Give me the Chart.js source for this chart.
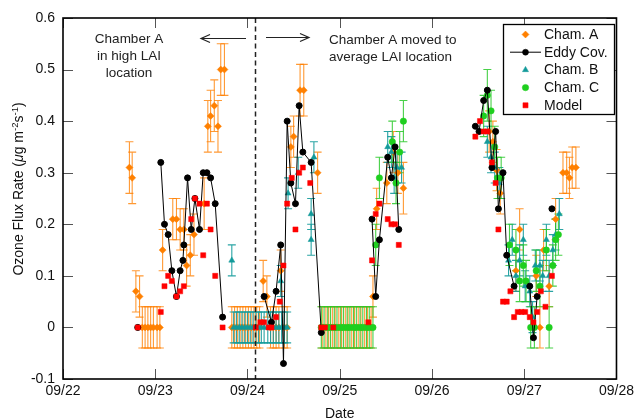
<!DOCTYPE html>
<html>
<head>
<meta charset="utf-8">
<script src="https://cdn.jsdelivr.net/npm/chart.js@4.4.1/dist/chart.umd.min.js"></script>
<style>
  html, body { margin: 0; padding: 0; background: #fff; }
  canvas { display: block; }
</style>
</head>
<body>
<canvas id="fluxChart" width="638" height="418"></canvas>
<script>
// values: x in days of September, y in ug m-2 s-1
var dayTicks = [22, 23, 24, 25, 26, 27, 28];
var fluxTicks = [-0.1, 0, 0.1, 0.2, 0.3, 0.4, 0.5, 0.6];
var chamberMoveDay = 24.083;

var chamADays = [22.72, 22.75, 22.79, 22.83, 22.86, 22.89, 22.92, 22.95, 22.98, 23.02, 23.05,
  23.08, 23.19, 23.23, 23.27, 23.31, 23.34, 23.38, 23.42, 23.53, 23.57, 23.60, 23.64, 23.68, 23.71, 23.75,
  23.83, 23.86, 23.89, 23.92, 23.95, 23.98, 24.01, 24.04, 24.07, 24.10, 24.13, 24.17, 24.21, 24.25, 24.28,
  24.31, 24.34, 24.36, 24.40, 24.43, 24.47, 24.50, 24.57, 24.61, 24.76,
  24.81, 24.85, 24.88, 24.92, 24.95, 24.99, 25.02, 25.06, 25.09, 25.13, 25.16, 25.20, 25.23, 25.27, 25.30, 25.34,
  25.36, 25.40, 25.51, 25.58, 25.63, 25.69,
  26.62, 26.66, 26.70, 26.74, 26.91, 26.95, 27.13, 27.17, 27.21, 27.27, 27.34, 27.42, 27.46, 27.49, 27.52, 27.56];
var chamAFlux = [0.31, 0.29, 0.07, 0.06, 0, 0, 0, 0, 0, 0, 0,
  0.15, 0.21, 0.21, 0.19, 0.19, 0.12, 0.14, 0.18, 0.24, 0.39, 0.41, 0.43, 0.39, 0.50, 0.50,
  0, 0, 0, 0, 0, 0, 0, 0, 0, 0, 0, 0.09, 0.06, 0, 0,
  0, 0, 0.11, 0, 0, 0.35, 0.37, 0.46, 0.46, 0.30,
  0, 0, 0, 0, 0, 0, 0, 0, 0, 0, 0, 0, 0, 0, 0, 0,
  0.06, 0.23, 0.28, 0.34, 0.30, 0.27,
  0.38, 0.36, 0.305, 0.26, 0.11, 0.19, 0.10, 0, 0.15, 0.08, 0.21, 0.30, 0.30, 0.29, 0.31, 0.31];
var chamAErr = [0.05, 0.05, 0.04, 0.04, 0.04, 0.04, 0.04, 0.04, 0.04, 0.04, 0.04,
  0.04, 0.04, 0.04, 0.04, 0.04, 0.04, 0.04, 0.04, 0.05, 0.05, 0.05, 0.05, 0.05, 0.05, 0.05,
  0.04, 0.04, 0.04, 0.04, 0.04, 0.04, 0.04, 0.04, 0.04, 0.04, 0.04, 0.04, 0.04, 0.04, 0.04,
  0.04, 0.04, 0.04, 0.04, 0.04, 0.04, 0.04, 0.05, 0.05, 0.04,
  0.04, 0.04, 0.04, 0.04, 0.04, 0.04, 0.04, 0.04, 0.04, 0.04, 0.04, 0.04, 0.04, 0.04, 0.04, 0.04,
  0.04, 0.04, 0.04, 0.04, 0.04, 0.05,
  0.04, 0.04, 0.04, 0.04, 0.04, 0.04, 0.04, 0.04, 0.04, 0.04, 0.04, 0.04, 0.04, 0.04, 0.04, 0.04];

var chamBDays = [23.83, 23.85, 23.88, 23.91, 23.94, 23.97, 24.00, 24.03, 24.06, 24.09, 24.12, 24.15, 24.18,
  24.22, 24.25, 24.28, 24.31, 24.34, 24.36, 24.37, 24.40, 24.43, 24.44, 24.55, 24.69, 24.69, 24.72,
  25.52, 25.56, 25.59, 25.62, 25.67,
  26.60, 26.64, 26.68, 26.73, 26.83, 26.87, 26.91, 26.95, 26.99, 27.01, 27.06, 27.09, 27.12, 27.17,
  27.20, 27.24, 27.27, 27.31, 27.34, 27.38];
var chamBFlux = [0.13, 0, 0, 0, 0, 0, 0, 0, 0, 0, 0, 0, 0,
  0, 0, 0, 0, 0, 0.09, 0, 0, 0, 0.26, 0.30, 0.22, 0.17, 0.33,
  0.35, 0.34, 0.29, 0.31, 0.31,
  0.36, 0.33, 0.31, 0.28, 0.13, 0.17, 0.10, 0.13, 0.17, 0.08, 0.07, 0.02, 0.12, 0.12,
  0.10, 0.17, 0.10, 0.15, 0.18, 0.22];
var chamBErr = 0.03;

var chamCDays = [24.80, 24.83, 24.87, 24.90, 24.94, 24.97, 25.01, 25.04, 25.08, 25.11, 25.15, 25.18,
  25.22, 25.25, 25.29, 25.32, 25.36,
  25.39, 25.43, 25.57, 25.61, 25.65, 25.69,
  26.56, 26.60, 26.64, 26.68, 26.71, 26.75, 26.84, 26.91, 26.95, 26.99, 27.02, 27.07, 27.11,
  27.13, 27.17, 27.24, 27.27, 27.31, 27.34, 27.37];
var chamCFlux = [0, 0, 0, 0, 0, 0, 0, 0, 0, 0, 0, 0,
  0, 0, 0, 0, 0,
  0.16, 0.29, 0.36, 0.28, 0.34, 0.40,
  0.41, 0.45, 0.42, 0.35, 0.29, 0.29, 0.16, 0.15, 0.09, 0.12, 0.09, 0, 0,
  0.11, 0.08, 0.15, 0, 0.12, 0.17, 0.18];
var chamCErr = [0.04, 0.04, 0.04, 0.04, 0.04, 0.04, 0.04, 0.04, 0.04, 0.04, 0.04, 0.04,
  0.04, 0.04, 0.04, 0.04, 0.04,
  0.04, 0.04, 0.04, 0.04, 0.04, 0.04,
  0.04, 0.05, 0.04, 0.04, 0.04, 0.04, 0.04, 0.04, 0.04, 0.04, 0.04, 0.04, 0.04,
  0.04, 0.04, 0.04, 0.04, 0.04, 0.04, 0.04];

// null flux = gap in the eddy covariance line
var eddyDays = [22.81, 22.81,
  23.06, 23.10, 23.14, 23.18, 23.23, 23.27, 23.30, 23.31, 23.35, 23.39, 23.43, 23.48, 23.52, 23.56,
  23.60, 23.65, 23.73, 23.73,
  24.18, 24.26, 24.31, 24.36, 24.39, 24.43, 24.47, 24.52, 24.56, 24.60, 24.69, 24.80, 24.80,
  25.35, 25.39, 25.43, 25.52, 25.56, 25.60, 25.64, 25.64,
  26.47, 26.51, 26.56, 26.60, 26.65, 26.69, 26.72, 26.77, 26.81, 26.89, 26.89,
  27.06, 27.10, 27.14, 27.14, 27.30];
var eddyFlux = [0.0, null,
  0.32, 0.20, 0.18, 0.11, 0.06, 0.11, 0.13, 0.16, 0.29, 0.19, 0.25, 0.19, 0.30, 0.30,
  0.29, 0.24, 0.02, null,
  0.06, 0.01, 0.07, 0.16, -0.07, 0.40, 0.28, 0.24, 0.43, 0.34, 0.32, -0.01, null,
  0.21, 0.06, 0.17, 0.33, 0.29, 0.35, 0.19, null,
  0.39, 0.38, 0.44, 0.46, 0.31, 0.38, 0.23, 0.30, 0.14, 0.08, null,
  0.08, -0.02, 0.06, null, 0.23];

var modelDays = [22.81, 23.06, 23.10, 23.14, 23.18, 23.23, 23.27, 23.31, 23.39, 23.43, 23.48, 23.52,
  23.56, 23.60, 23.65, 23.73,
  24.09, 24.14, 24.18, 24.23, 24.26, 24.31, 24.35, 24.39, 24.43, 24.48, 24.52, 24.56, 24.60, 24.68,
  24.80, 24.84, 24.93,
  25.31, 25.35, 25.39, 25.43, 25.52, 25.56, 25.60, 25.64,
  26.47, 26.52, 26.56, 26.60, 26.65, 26.69, 26.72, 26.77, 26.81, 26.85, 26.89, 26.93, 26.97, 27.01,
  27.06, 27.10, 27.14, 27.18, 27.23, 27.30];
var modelFlux = [0.00, 0.03, 0.08, 0.10, 0.09, 0.06, 0.07, 0.08, 0.21, 0.25, 0.24, 0.14,
  0.24, 0.19, 0.10, 0.00,
  0.00, 0.01, 0.01, 0.00, 0.00, 0.02, 0.05, 0.12, 0.24, 0.29, 0.19, 0.30, 0.31, 0.28,
  0.00, 0.00, 0.00,
  0.01, 0.13, 0.22, 0.24, 0.21, 0.20, 0.20, 0.16,
  0.37, 0.40, 0.38, 0.38, 0.32, 0.28, 0.19, 0.05, 0.05, 0.07, 0.02, 0.03, 0.03, 0.03,
  0.02, 0.01, 0.03, 0.07, 0.04, 0.10];

var FONT = '"Liberation Sans", Arial, Helvetica, sans-serif';
var ORANGE = '#ff8000';
var TEAL = '#129a9a';
var GREEN = '#1fcf1f';

function toPoints(xs, ys) {
	return xs.map(function(x, i) { return { x: x, y: ys[i] }; });
}

function errList(errs, n) {
	if (Array.isArray(errs)) return errs;
	var out = [];
	for (var i = 0; i < n; i++) out.push(errs);
	return out;
}

// vertical error bars with caps, drawn under the markers
var errorBars = {
	id: 'errorBars',
	beforeDatasetsDraw: function(chart) {
		var ctx = chart.ctx;
		var xs = chart.scales.x, ys = chart.scales.y;
		ctx.save();
		chart.data.datasets.slice().reverse().forEach(function(ds) {
			if (!ds.errors) return;
			ctx.strokeStyle = ds.barColor;
			ctx.lineWidth = 1.1;
			ds.data.forEach(function(p, i) {
				var e = ds.errors[i];
				var px = xs.getPixelForValue(p.x);
				var top = ys.getPixelForValue(p.y + e);
				var bot = ys.getPixelForValue(p.y - e);
				ctx.beginPath();
				ctx.moveTo(px, top); ctx.lineTo(px, bot);
				ctx.moveTo(px - 4, top); ctx.lineTo(px + 4, top);
				ctx.moveTo(px - 4, bot); ctx.lineTo(px + 4, bot);
				ctx.stroke();
			});
		});
		ctx.restore();
	}
};

function drawArrow(ctx, x1, x2, y) {
	var dir = x2 > x1 ? 1 : -1;
	ctx.beginPath();
	ctx.moveTo(x1, y); ctx.lineTo(x2, y);
	ctx.moveTo(x2 - dir * 9, y - 4); ctx.lineTo(x2, y); ctx.lineTo(x2 - dir * 9, y + 4);
	ctx.stroke();
}

function drawMarker(ctx, style, color, r, x, y) {
	ctx.fillStyle = color;
	ctx.strokeStyle = color;
	ctx.lineWidth = 0.5;
	Chart.helpers.drawPoint(ctx, { pointStyle: style, radius: r, rotation: 0, borderWidth: 0.5 }, x, y);
}

// box, inward ticks, move marker, notes, legend and axis titles
var decorations = {
	id: 'decorations',
	afterDatasetsDraw: function(chart) {
		var ctx = chart.ctx;
		var a = chart.chartArea;
		var xs = chart.scales.x, ys = chart.scales.y;
		ctx.save();

		// dashed line where chamber A was moved
		var mx = Math.round(xs.getPixelForValue(chamberMoveDay)) + 0.5;
		ctx.strokeStyle = '#222';
		ctx.lineWidth = 1.5;
		ctx.setLineDash([5, 3.5]);
		ctx.beginPath();
		ctx.moveTo(mx, a.top); ctx.lineTo(mx, a.bottom);
		ctx.stroke();
		ctx.setLineDash([]);

		// inward tick marks on all four sides
		ctx.strokeStyle = '#555';
		ctx.lineWidth = 1;
		ctx.beginPath();
		dayTicks.forEach(function(d) {
			var x = Math.round(xs.getPixelForValue(d)) + 0.5;
			ctx.moveTo(x, a.bottom); ctx.lineTo(x, a.bottom - 10);
			ctx.moveTo(x, a.top); ctx.lineTo(x, a.top + 10);
		});
		fluxTicks.forEach(function(v) {
			var y = Math.round(ys.getPixelForValue(v)) + 0.5;
			ctx.moveTo(a.left, y); ctx.lineTo(a.left + 10, y);
			ctx.moveTo(a.right, y); ctx.lineTo(a.right - 10, y);
		});
		ctx.stroke();

		// frame
		ctx.strokeStyle = '#000';
		ctx.lineWidth = 1.6;
		ctx.strokeRect(a.left, a.top, a.right - a.left, a.bottom - a.top);

		// notes and arrows
		ctx.fillStyle = '#222';
		ctx.font = '13.5px ' + FONT;
		ctx.textBaseline = 'middle';
		ctx.textAlign = 'center';
		ctx.fillText('Chamber A', 129, 39);
		ctx.fillText('in high LAI', 129, 56);
		ctx.fillText('location', 129, 73);
		ctx.textAlign = 'left';
		ctx.fillText('Chamber A moved to', 329, 40);
		ctx.fillText('average LAI location', 329, 57);
		ctx.strokeStyle = '#222';
		ctx.lineWidth = 1.2;
		drawArrow(ctx, 246, 201, 38.5);
		drawArrow(ctx, 266, 309, 37.5);

		// legend box
		ctx.fillStyle = '#fff';
		ctx.fillRect(503, 24, 112, 90);
		ctx.strokeStyle = '#000';
		ctx.lineWidth = 1.3;
		ctx.strokeRect(503.5, 24.5, 111, 90);
		var entries = [
			{ label: 'Cham. A', style: 'rectRot', color: ORANGE, r: 3.5 },
			{ label: 'Eddy Cov.', style: 'circle', color: '#000', r: 3, line: true },
			{ label: 'Cham. B', style: 'triangle', color: TEAL, r: 3.5 },
			{ label: 'Cham. C', style: 'circle', color: GREEN, r: 3.2 },
			{ label: 'Model', style: 'rect', color: '#ff0000', r: 3.6 }
		];
		ctx.font = '14px ' + FONT;
		ctx.textAlign = 'left';
		entries.forEach(function(e, i) {
			var y = 34.5 + i * 17.7;
			if (e.line) {
				ctx.strokeStyle = '#000';
				ctx.lineWidth = 1;
				ctx.beginPath();
				ctx.moveTo(510, y); ctx.lineTo(541, y);
				ctx.stroke();
			}
			drawMarker(ctx, e.style, e.color, e.r, 525.5, y);
			ctx.fillStyle = '#111';
			ctx.fillText(e.label, 544, y + 0.5);
		});

		// x title
		ctx.fillStyle = '#111';
		ctx.font = '14px ' + FONT;
		ctx.textAlign = 'center';
		ctx.textBaseline = 'alphabetic';
		ctx.fillText('Date', (a.left + a.right) / 2, 418);

		// y title with italic mu and superscripts
		var parts = [
			{ t: 'Ozone Flux Rate (', f: '14px ' + FONT, dy: 0 },
			{ t: '\u03bc', f: 'italic 14px ' + FONT, dy: 0 },
			{ t: 'g m', f: '14px ' + FONT, dy: 0 },
			{ t: '-2', f: '9.5px ' + FONT, dy: -5 },
			{ t: 's', f: '14px ' + FONT, dy: 0 },
			{ t: '-1', f: '9.5px ' + FONT, dy: -5 },
			{ t: ')', f: '14px ' + FONT, dy: 0 }
		];
		var total = 0;
		parts.forEach(function(p) { ctx.font = p.f; p.w = ctx.measureText(p.t).width; total += p.w; });
		ctx.translate(23, 189);
		ctx.rotate(-Math.PI / 2);
		ctx.textAlign = 'left';
		ctx.textBaseline = 'alphabetic';
		var cx = -total / 2;
		parts.forEach(function(p) {
			ctx.font = p.f;
			ctx.fillText(p.t, cx, p.dy);
			cx += p.w;
		});
		ctx.restore();
	}
};

var ctx = document.getElementById('fluxChart').getContext('2d');

var fluxChart = new Chart(ctx, {
	type: 'scatter',
	data: {
		datasets: [{
			label: 'Model',
			data: toPoints(modelDays, modelFlux),
			pointStyle: 'rect',
			pointRadius: 3.6,
			backgroundColor: '#ff0000',
			borderColor: '#ff0000',
			borderWidth: 0.5
		}, {
			label: 'Eddy Cov.',
			data: toPoints(eddyDays, eddyFlux),
			showLine: true,
			spanGaps: false,
			pointStyle: 'circle',
			pointRadius: 3,
			backgroundColor: '#000',
			borderColor: '#000',
			borderWidth: 1
		}, {
			label: 'Cham. C',
			data: toPoints(chamCDays, chamCFlux),
			errors: errList(chamCErr, chamCDays.length),
			barColor: 'rgba(40,200,40,0.85)',
			pointStyle: 'circle',
			pointRadius: 3.2,
			backgroundColor: GREEN,
			borderColor: GREEN,
			borderWidth: 0.5
		}, {
			label: 'Cham. B',
			data: toPoints(chamBDays, chamBFlux),
			errors: errList(chamBErr, chamBDays.length),
			barColor: 'rgba(18,154,154,0.9)',
			pointStyle: 'triangle',
			pointRadius: 3.5,
			backgroundColor: TEAL,
			borderColor: TEAL,
			borderWidth: 0.5
		}, {
			label: 'Cham. A',
			data: toPoints(chamADays, chamAFlux),
			errors: errList(chamAErr, chamADays.length),
			barColor: 'rgba(255,128,0,0.8)',
			pointStyle: 'rectRot',
			pointRadius: 3.5,
			backgroundColor: ORANGE,
			borderColor: ORANGE,
			borderWidth: 0.5
		}]
	},
	options: {
		responsive: false,
		animation: false,
		layout: { padding: { left: 0, right: 17, top: 18, bottom: 0 } },
		plugins: {
			legend: { display: false },
			tooltip: { enabled: false }
		},
		scales: {
			x: {
				type: 'linear',
				min: 22,
				max: 28,
				afterFit: function(scale) { scale.height = 39; },
				grid: { display: false, drawTicks: false },
				border: { display: false },
				ticks: {
					stepSize: 1,
					padding: 4,
					color: '#111',
					font: { size: 14, family: FONT },
					callback: function(v) { return '09/' + v; }
				}
			},
			y: {
				min: -0.1,
				max: 0.6,
				afterFit: function(scale) { scale.width = 63; },
				grid: { display: false, drawTicks: false },
				border: { display: false },
				ticks: {
					stepSize: 0.1,
					padding: 8,
					color: '#111',
					font: { size: 14, family: FONT },
					callback: function(v) {
						var r = Math.round(v * 10) / 10;
						return r === 0 ? '0' : String(r);
					}
				}
			}
		}
	},
	plugins: [errorBars, decorations]
});
</script>
</body>
</html>
